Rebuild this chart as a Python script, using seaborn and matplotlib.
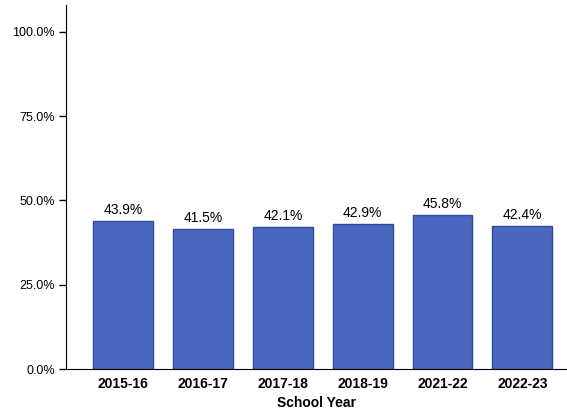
import matplotlib
matplotlib.use("Agg")
import matplotlib.pyplot as plt
from matplotlib.ticker import PercentFormatter
import pandas as pd
import seaborn as sns

# data
years = ["2015-16", "2016-17", "2017-18", "2018-19", "2021-22", "2022-23"]
rates = [43.9, 41.5, 42.1, 42.9, 45.8, 42.4]

df = pd.DataFrame({"year": years, "rate": rates})

sns.set_style("white")
plt.rcParams["font.family"] = ["Liberation Sans", "DejaVu Sans"]
plt.rcParams["text.color"] = "black"
plt.rcParams["axes.labelcolor"] = "black"
plt.rcParams["xtick.color"] = "black"
plt.rcParams["ytick.color"] = "black"

fig = plt.figure(figsize=(5.67, 4.11), dpi=100)
ax = fig.add_axes([0.116, 0.102, 0.884, 0.886])

sns.barplot(data=df, x="year", y="rate", color="#4a68c0", saturation=1,
            width=0.75, edgecolor="#2f4a9a", linewidth=1, ax=ax)

for i, v in enumerate(rates):
    ax.text(i, v + 1.2, f"{v:.1f}%", ha="center", va="bottom", fontsize=10)

ax.set_ylim(0, 108)
ax.set_xlim(-0.72, 5.56)
ax.set_yticks([0, 25, 50, 75, 100])
ax.yaxis.set_major_formatter(PercentFormatter(decimals=1))
ax.tick_params(axis="y", left=True, length=5, width=1, labelsize=9, pad=3)
ax.tick_params(axis="x", bottom=False, labelsize=10, pad=2)
for lbl in ax.get_xticklabels():
    lbl.set_fontweight("bold")

ax.set_xlabel("School Year", fontsize=10, fontweight="bold", labelpad=4)
ax.set_ylabel("")

sns.despine(ax=ax, top=True, right=True)
ax.spines["left"].set_color("black")
ax.spines["bottom"].set_color("black")

fig.savefig("out.png", dpi=100)
